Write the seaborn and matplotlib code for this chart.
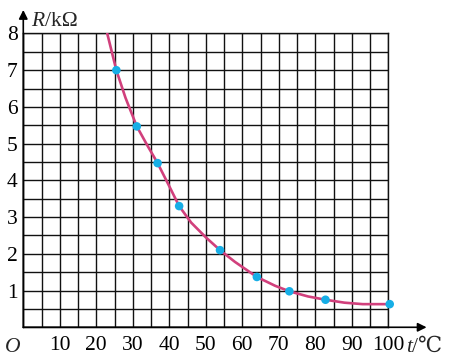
import numpy as np
import matplotlib
matplotlib.use("Agg")
import matplotlib.pyplot as plt
import seaborn as sns

t_points = [25.5, 31.1, 36.8, 42.7, 53.9, 64.0, 72.9, 82.8, 100.4]
r_points = [7.0, 5.47, 4.47, 3.30, 2.10, 1.37, 0.98, 0.75, 0.63]

# Courbe lissée
t_curve = [23.0, 25.5, 28.0, 31.1, 34.0, 36.8, 39.8, 42.7, 46.0, 50.0, 53.9,
           58.0, 64.0, 69.0, 72.9, 78.0, 82.8, 88.0, 93.0, 97.0, 100.4]
r_curve = [8.0, 7.0, 6.25, 5.47, 4.95, 4.47, 3.88, 3.30, 2.85, 2.45, 2.10,
           1.78, 1.37, 1.13, 0.98, 0.84, 0.75, 0.67, 0.63, 0.63, 0.63]

x_ticks = [10, 20, 30, 40, 50, 60, 70, 80, 90, 100]
y_ticks = [1, 2, 3, 4, 5, 6, 7, 8]

sns.set_style("white")
plt.rcParams["font.family"] = ["Liberation Serif", "DejaVu Serif", "DejaVu Sans"]

fig = plt.figure(figsize=(4.53, 3.58), dpi=100)
ax = fig.add_axes([0.0514, 0.0858, 0.8057, 0.8207])

ax.set_xlim(0, 100)
ax.set_ylim(0, 8)
ax.set_xticks(x_ticks)
ax.set_xticklabels([str(v) for v in x_ticks])
ax.set_yticks(y_ticks)
ax.set_yticklabels([str(v) for v in y_ticks])
ax.set_xticks(np.arange(0, 101, 5), minor=True)
ax.set_yticks(np.arange(0, 8.01, 0.5), minor=True)
ax.tick_params(which="both", length=0, labelsize=15.5, colors="black")
ax.tick_params(axis="x", pad=6)
ax.tick_params(axis="y", pad=4)
ax.grid(which="both", color="#111111", linewidth=1.0)
ax.set_axisbelow(True)
for s in ax.spines.values():
    s.set_color("#111111")
    s.set_linewidth(1.0)

sns.lineplot(x=t_curve, y=r_curve, ax=ax, color="#d1407c", linewidth=1.9,
             zorder=3)
sns.scatterplot(x=t_points, y=r_points, ax=ax, color="#17aee6", s=38,
                edgecolor="none", zorder=4, clip_on=False)
ax.set_xlabel("")
ax.set_ylabel("")

# Flèches des axes
arrow = dict(arrowstyle="-|>", color="black", lw=1.2, mutation_scale=13,
             shrinkA=0, shrinkB=0, clip_on=False)
ax.annotate("", xy=(0, 1.08), xytext=(0, 0), xycoords="axes fraction",
            arrowprops=arrow, annotation_clip=False, zorder=6)
ax.annotate("", xy=(1.105, 0), xytext=(0, 0), xycoords="axes fraction",
            arrowprops=arrow, annotation_clip=False, zorder=6)

W, H = 453, 358
fs = 15.5
fig.text(31 / W, 1 - 26 / H, "R", fontsize=fs, style="italic", va="baseline")
fig.text(45 / W, 1 - 26 / H, "/kΩ", fontsize=fs, va="baseline")
fig.text(13 / W, 1 - 352 / H, "O", fontsize=fs, style="italic",
         va="baseline", ha="center")
fig.text(406 / W, 1 - 352 / H, "t", fontsize=fs, style="italic",
         va="baseline")
fig.text(412 / W, 1 - 352 / H, "/℃", fontsize=fs, va="baseline")

plt.savefig("out.png", dpi=100)
